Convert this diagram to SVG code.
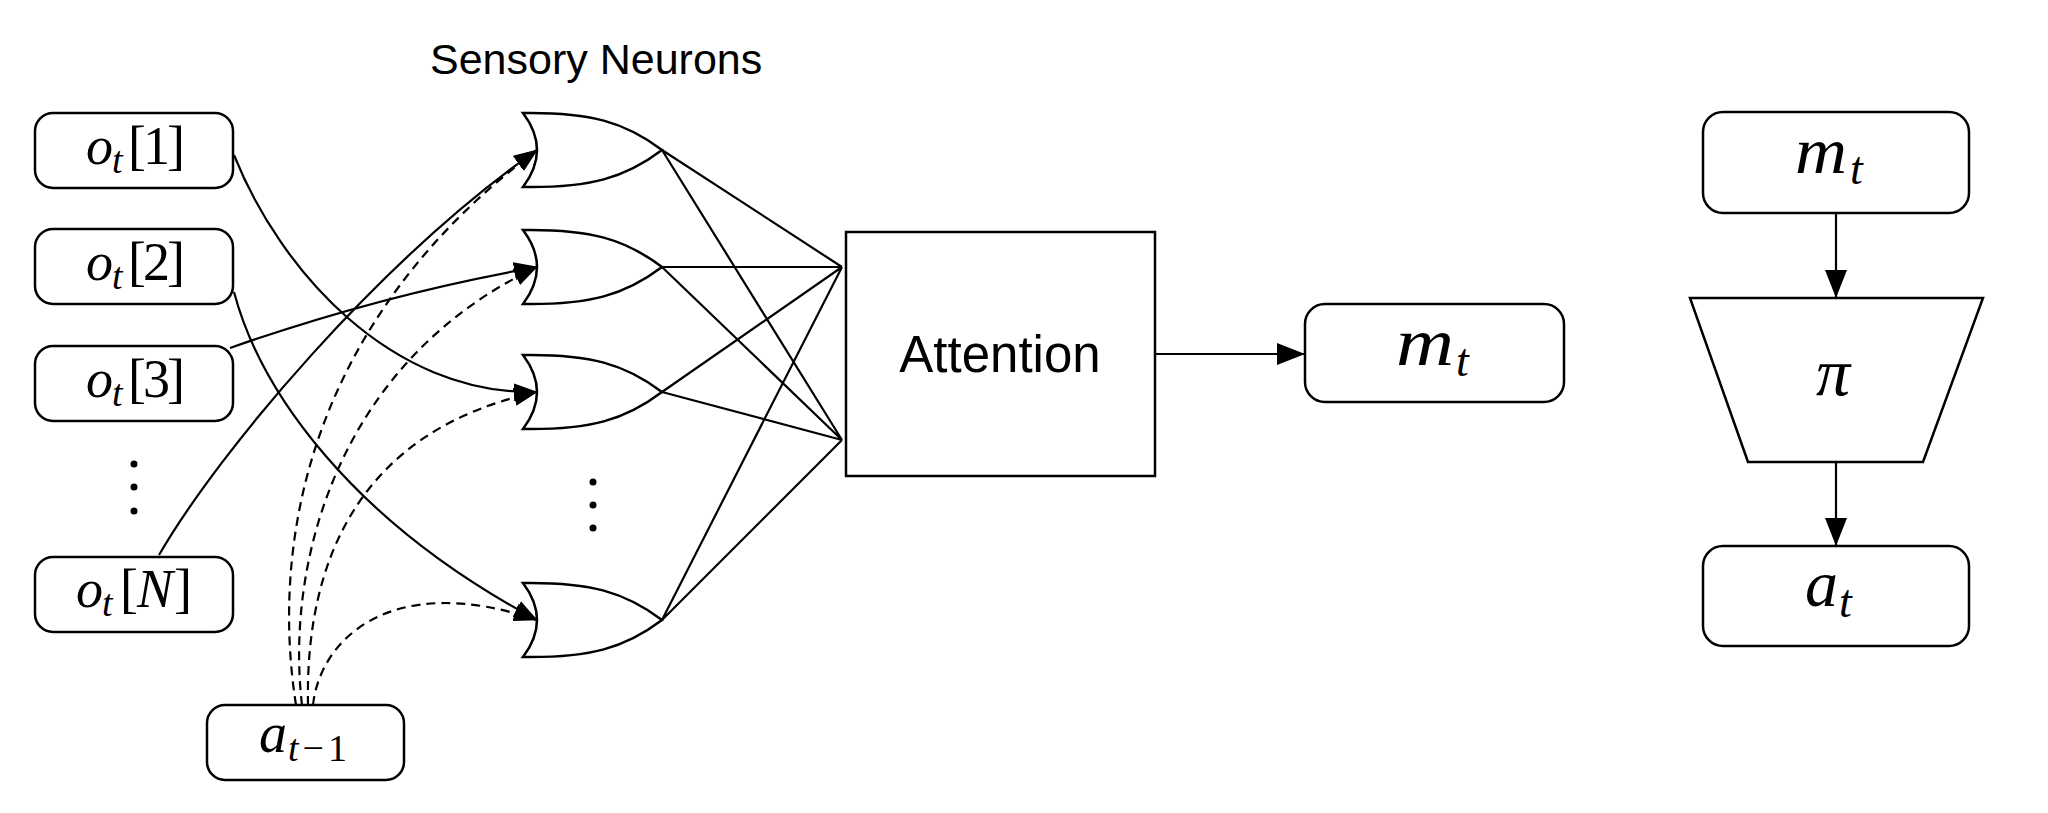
<svg xmlns="http://www.w3.org/2000/svg" xmlns:xlink="http://www.w3.org/1999/xlink" width="2048" height="813" viewBox="0 0 2048 813">
<style>
.box{fill:#fff;stroke:#000;stroke-width:2.5}
.ln{fill:none;stroke:#000;stroke-width:2.2}
.dash{fill:none;stroke:#000;stroke-width:2.2;stroke-dasharray:9 6}
.m{font-family:"Liberation Serif","Times New Roman",serif;fill:#000}
.l{font-size:54px}
.i{font-style:italic}
.s{font-size:38px}
.sans{font-family:"Liberation Sans",Arial,Helvetica,sans-serif;fill:#000}
.dot{fill:#000}
</style>
<defs>
<marker id="arr" viewBox="0 0 24 18" refX="23" refY="9" markerWidth="24" markerHeight="18" markerUnits="userSpaceOnUse" orient="auto"><path d="M0,0 L24,9 L0,18 z" fill="#000"/></marker>
<marker id="arrB" viewBox="0 0 28 22" refX="27" refY="11" markerWidth="28" markerHeight="22" markerUnits="userSpaceOnUse" orient="auto"><path d="M0,0 L28,11 L0,22 z" fill="#000"/></marker>
<path id="neuron" d="M0,-37 C67,-38 102,-28 139,0 C102,28 67,38 0,37 Q28,0 0,-37 Z" fill="#fff" stroke="#000" stroke-width="2.5"/>
</defs>
<rect width="2048" height="813" fill="#fff"/>

<text class="sans" x="430" y="74" font-size="43">Sensory Neurons</text>

<g id="connectors">
<path class="ln" d="M662,150 L842,267 M662,150 L842,440 M662,267 L842,267 M662,267 L842,440 M662,392 L842,267 M662,392 L842,440 M662,620 L842,267 M662,620 L842,440"/>
<path class="ln" d="M234,155 C280,270 390,395 537,392" marker-end="url(#arr)"/>
<path class="ln" d="M234,292 C260,390 350,520 537,620" marker-end="url(#arr)"/>
<path class="ln" d="M230,348 Q380,295 537,267" marker-end="url(#arr)"/>
<path class="ln" d="M159,555 C220,450 380,260 537,150" marker-end="url(#arr)"/>
<path class="dash" d="M296,705 C270,540 310,320 537,150" marker-end="url(#arr)"/>
<path class="dash" d="M302,705 C285,560 340,360 537,267" marker-end="url(#arr)"/>
<path class="dash" d="M308,705 C305,560 360,430 537,392" marker-end="url(#arr)"/>
<path class="dash" d="M313,705 C320,640 390,570 537,620" marker-end="url(#arr)"/>
<path class="ln" d="M1155,354 L1304,354" marker-end="url(#arrB)"/>
<path class="ln" d="M1836,213 L1836,297" marker-end="url(#arrB)"/>
<path class="ln" d="M1836,462 L1836,545" marker-end="url(#arrB)"/>
</g>

<g id="obs1">
<rect class="box" x="35" y="113" width="198" height="75" rx="18"/>
<text class="m l" y="164"><tspan class="i" x="86">o</tspan><tspan class="i s" x="112" y="173">t</tspan><tspan x="128" y="164" letter-spacing="-3">[1]</tspan></text>
</g>
<g id="obs2">
<rect class="box" x="35" y="229" width="198" height="75" rx="18"/>
<text class="m l" y="280"><tspan class="i" x="86">o</tspan><tspan class="i s" x="112" y="289">t</tspan><tspan x="128" y="280" letter-spacing="-3">[2]</tspan></text>
</g>
<g id="obs3">
<rect class="box" x="35" y="346" width="198" height="75" rx="18"/>
<text class="m l" y="397"><tspan class="i" x="86">o</tspan><tspan class="i s" x="112" y="406">t</tspan><tspan x="128" y="397" letter-spacing="-3">[3]</tspan></text>
</g>
<g id="obs-dots">
<circle class="dot" cx="134" cy="464" r="3.5"/>
<circle class="dot" cx="134" cy="487" r="3.5"/>
<circle class="dot" cx="134" cy="511" r="3.5"/>
</g>
<g id="obsN">
<rect class="box" x="35" y="557" width="198" height="75" rx="18"/>
<text class="m l" y="607"><tspan class="i" x="76">o</tspan><tspan class="i s" x="102" y="616">t</tspan><tspan x="120" y="607">[</tspan><tspan class="i" dx="-1">N</tspan><tspan dx="1">]</tspan></text>
</g>
<g id="prev-action">
<rect class="box" x="207" y="705" width="197" height="75" rx="18"/>
<text class="m l" y="752"><tspan class="i" x="259" style="font-size:56px">a</tspan><tspan class="i s" x="288" y="761">t</tspan><tspan class="s" dx="4">−</tspan><tspan class="s" dx="4">1</tspan></text>
</g>

<g id="neuron1"><use xlink:href="#neuron" x="523" y="150"/></g>
<g id="neuron2"><use xlink:href="#neuron" x="523" y="267"/></g>
<g id="neuron3"><use xlink:href="#neuron" x="523" y="392"/></g>
<g id="neuron-dots">
<circle class="dot" cx="593" cy="482" r="3.5"/>
<circle class="dot" cx="593" cy="505" r="3.5"/>
<circle class="dot" cx="593" cy="528" r="3.5"/>
</g>
<g id="neuronN"><use xlink:href="#neuron" x="523" y="620"/></g>

<g id="attention">
<rect class="box" x="846" y="232" width="309" height="244"/>
<text class="sans" x="1000" y="372" font-size="51" text-anchor="middle">Attention</text>
</g>

<g id="memory">
<rect class="box" x="1305" y="304" width="259" height="98" rx="20"/>
<text class="m i" x="1396" y="365" style="font-size:68px" textLength="58" lengthAdjust="spacingAndGlyphs">m</text>
<text class="m i" x="1456" y="376" style="font-size:46px">t</text>
</g>

<g id="memory-right">
<rect class="box" x="1703" y="112" width="266" height="101" rx="20"/>
<text class="m i" x="1795" y="173" style="font-size:66px" textLength="52" lengthAdjust="spacingAndGlyphs">m</text>
<text class="m i" x="1850" y="184" style="font-size:46px">t</text>
</g>
<g id="policy">
<path class="box" d="M1690,298 L1983,298 L1923,462 L1748,462 Z"/>
<text class="m i" x="1833" y="395" style="font-size:68px" text-anchor="middle">π</text>
</g>
<g id="action">
<rect class="box" x="1703" y="546" width="266" height="100" rx="20"/>
<text class="m i" x="1805" y="606" style="font-size:66px">a</text>
<text class="m i" x="1839" y="617" style="font-size:46px">t</text>
</g>
</svg>
